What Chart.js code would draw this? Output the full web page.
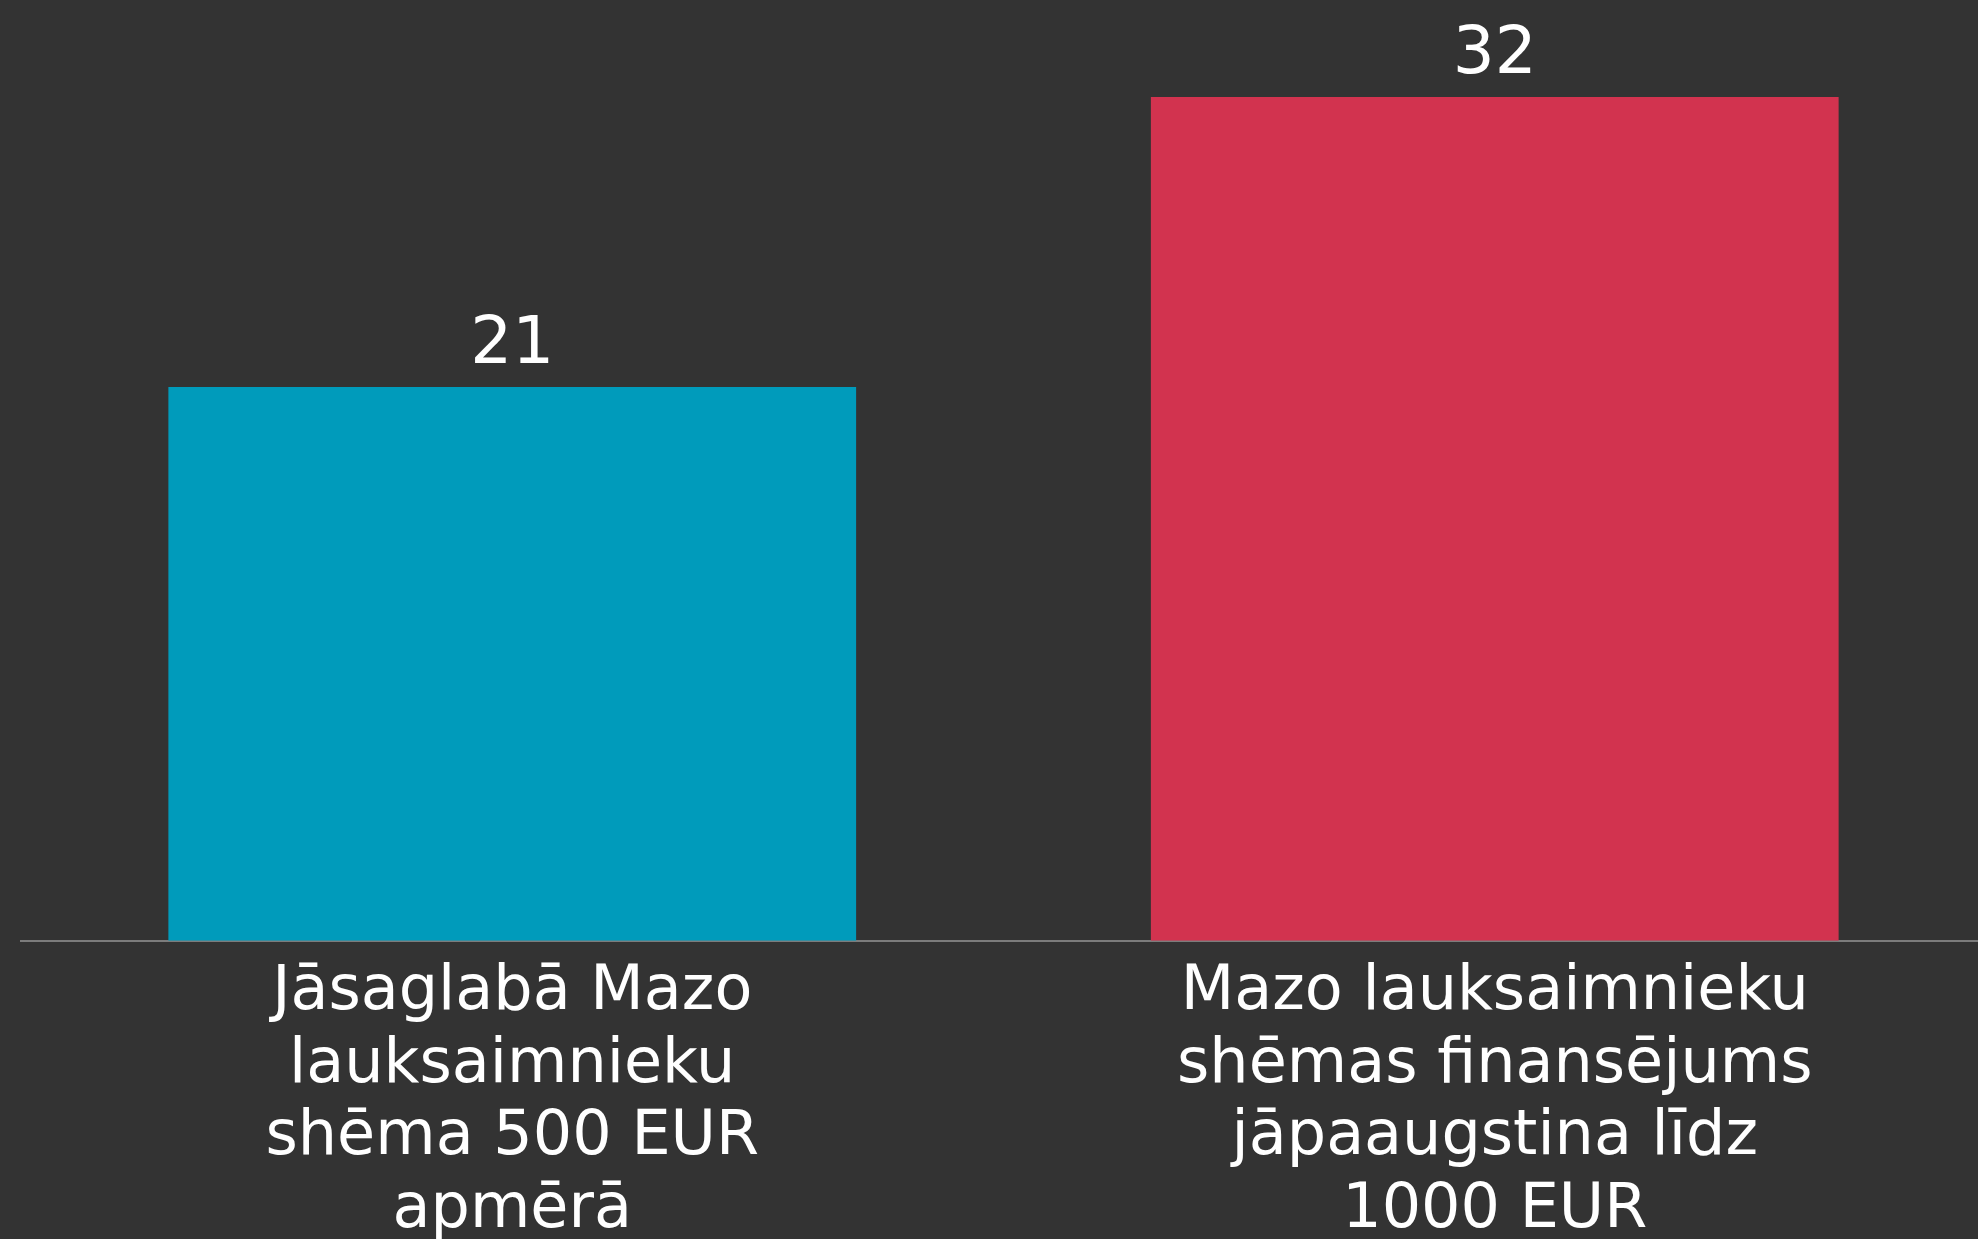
<!DOCTYPE html>
<html>
<head>
<meta charset="utf-8">
<script src="https://cdn.jsdelivr.net/npm/chart.js@4"></script>
<style>
  html, body { margin: 0; padding: 0; background: #333333; overflow: hidden; }
  #wrap { width: 1986px; height: 1239px; }
</style>
</head>
<body>
<div id="wrap"><canvas id="surveyChart"></canvas></div>
<script>
// data
const categories = [
  ["Jāsaglabā Mazo", "lauksaimnieku", "shēma 500 EUR", "apmērā"],
  ["Mazo lauksaimnieku", "shēmas finansējums", "jāpaaugstina līdz", "1000 EUR"]
];
const votes = [21, 32];
const barColors = ["#009bbb", "#d2334f"];

// draw the numbers above the bars
const valueLabels = {
  id: "valueLabels",
  afterDatasetsDraw(chart) {
    const ctx = chart.ctx;
    const meta = chart.getDatasetMeta(0);
    ctx.save();
    ctx.fillStyle = "#ffffff";
    ctx.font = "66px 'DejaVu Sans'";
    ctx.textAlign = "center";
    ctx.textBaseline = "alphabetic";
    meta.data.forEach((bar, i) => {
      ctx.fillText(String(votes[i]), bar.x, bar.y - 24);
    });
    ctx.restore();
  }
};

const ctx = document.getElementById("surveyChart").getContext("2d");
new Chart(ctx, {
  type: "bar",
  data: {
    labels: categories,
    datasets: [
      {
        label: "Balsis",
        data: votes,
        backgroundColor: barColors,
        borderWidth: 0,
        barPercentage: 0.7,
        categoryPercentage: 1.0,
      },
    ],
  },
  options: {
    responsive: true,
    maintainAspectRatio: false,
    animation: false,
    layout: { padding: { top: 97, left: 21, right: 0, bottom: -24 } },
    plugins: {
      legend: { display: false },
      tooltip: { enabled: false },
    },
    scales: {
      x: {
        grid: { display: false, drawTicks: false },
        border: { display: true, color: "#7c7c7c", width: 2 },
        ticks: {
          color: "#ffffff",
          padding: 16,
          maxRotation: 0,
          autoSkip: false,
          font: { family: "'DejaVu Sans'", size: 62, lineHeight: 1.17 },
        },
      },
      y: {
        display: false,
        min: 0,
        max: 32,
      },
    },
  },
  plugins: [valueLabels],
});
</script>
</body>
</html>
